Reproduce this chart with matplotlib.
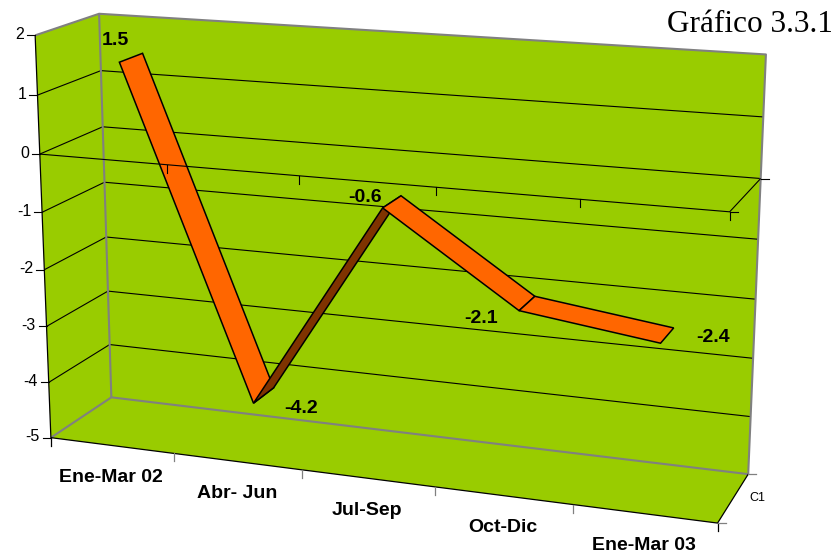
import numpy as np
import matplotlib
matplotlib.use("Agg")
import matplotlib.pyplot as plt

categories = ["Ene-Mar 02", "Abr- Jun", "Jul-Sep", "Oct-Dic", "Ene-Mar 03"]
values = [1.5, -4.2, -0.6, -2.1, -2.4]
value_ticks = [2, 1, 0, -1, -2, -3, -4, -5]
series_name = "C1"
title = "Gráfico 3.3.1"

GREEN = "#99CC00"
ORANGE = "#FF6600"
BROWN = "#7F3300"
GRAY = "#808080"

# Camera fitted from the box corners of the 3-D plot: (category, depth, value) -> pixel
anchors = [
    ((0, 0, 2), (35, 35)), ((0, 0, 0), (40, 154)), ((0, 0, -5), (51, 438)),
    ((0, 1, 2), (99, 14)), ((0, 1, 0), (103, 127)), ((0, 1, -5), (111, 397)),
    ((5, 1, 2), (766, 54)), ((5, 1, 0), (761, 179)), ((5, 1, -5), (748, 474)),
    ((5, 0, 0), (729, 212)), ((5, 0, -5), (718, 523)),
]
A, b = [], []
for (x, d, z), (u, v) in anchors:
    A.append([x, d, z, 1, 0, 0, 0, 0, -u * x, -u * d, -u * z])
    A.append([0, 0, 0, 0, x, d, z, 1, -v * x, -v * d, -v * z])
    b += [u, v]
P = np.append(np.linalg.lstsq(np.array(A, float), np.array(b, float), rcond=None)[0], 1).reshape(3, 4)


def proj(x, d, z):
    q = P @ np.array([x, d, z, 1.0])
    return q[0] / q[2], q[1] / q[2]


def path(ax, pts, color, lw, z):
    xy = np.array([proj(*p) for p in pts])
    ax.plot(xy[:, 0], xy[:, 1], color=color, lw=lw, zorder=z, solid_capstyle="butt")


def face(ax, pts, color, z, edge="none", lw=0):
    xy = np.array([proj(*p) for p in pts])
    ax.fill(xy[:, 0], xy[:, 1], facecolor=color, edgecolor=edge, lw=lw, zorder=z, joinstyle="miter")


fig = plt.figure(figsize=(8.37, 5.54), dpi=100)
ax = fig.add_axes([0, 0, 1, 1])
ax.set_xlim(0, 837)
ax.set_ylim(554, 0)
ax.axis("off")

n = len(categories)
top, bot = max(value_ticks), min(value_ticks)

# walls and floor
face(ax, [(0, 0, top), (0, 1, top), (0, 1, bot), (0, 0, bot)], GREEN, 1)
face(ax, [(0, 1, top), (n, 1, top), (n, 1, bot), (0, 1, bot)], GREEN, 1)
face(ax, [(0, 0, bot), (0, 1, bot), (n, 1, bot), (n, 0, bot)], GREEN, 1)

# gridlines
for t in value_ticks[1:-1]:
    path(ax, [(0, 0, t), (0, 1, t), (n, 1, t)], "black", 0.8, 2)

# grey wall edges
path(ax, [(0, 0, top), (0, 1, top), (n, 1, top), (n, 1, bot), (0, 1, bot), (0, 0, bot)], GRAY, 1.5, 2)
path(ax, [(0, 1, top), (0, 1, bot)], GRAY, 1.5, 2)

# category axis plane at zero: drawn over the ribbon
path(ax, [(0, 0, 0), (n, 0, 0), (n, 1, 0)], "black", 0.8, 5)
for i in range(1, n + 1):
    u, v = proj(i, 0, 0)
    ax.plot([u, u], [v, v + 8], color="black", lw=0.8, zorder=5)

# axes of the box
path(ax, [(0, 0, top), (0, 0, bot), (n, 0, bot), (n, 1, bot)], "black", 0.9, 3)
for i in range(n + 1):
    u, v = proj(i, 0, bot)
    ax.plot([u, u], [v, v + 8], color=GRAY if 0 < i < n else "black", lw=0.9, zorder=3)
for d in (0, 1):
    u, v = proj(n, d, bot)
    ax.plot([u, u + 8], [v, v], color=GRAY, lw=0.9, zorder=3)
for d in (0, 1):
    u, v = proj(n, d, 0)
    ax.plot([u, u + 8], [v, v], color="black", lw=0.8, zorder=5)

for t in value_ticks:
    u, v = proj(0, 0, t)
    ax.plot([u - 8, u], [v, v], color="black", lw=0.8, zorder=3)
    ax.text(u - 11, v - 1, str(t), ha="right", va="center", fontsize=11.5,
            family="Liberation Sans", color="black", zorder=6)

# ribbon
D0, D1 = 0.31, 0.69
for i in range(n - 1):
    rising = values[i + 1] > values[i] and i == 1
    face(ax,
         [(i + 0.5, D0, values[i]), (i + 1.5, D0, values[i + 1]),
          (i + 1.5, D1, values[i + 1]), (i + 0.5, D1, values[i])],
         BROWN if rising else ORANGE, 4 + i * 0.1, edge="black", lw=1.1)

# labels
fs = 14
label_offsets = [(-4, -22), (48, 5), (-18, -10), (-38, 8), (52, -6)]
for i, val in enumerate(values):
    u, v = proj(i + 0.5, D0, val)
    dx, dy = label_offsets[i]
    ax.text(u + dx, v + dy, f"{val:.1f}", ha="center", va="center", fontsize=fs,
            fontweight="bold", family="Liberation Sans", color="black", zorder=7)

for i, c in enumerate(categories):
    u, v = proj(i + 0.5, 0, bot)
    ax.text(u - 0.5, v + 32, c, ha="center", va="center", fontsize=fs, fontweight="bold",
            family="Liberation Sans", color="black", zorder=6)

u, v = proj(n, 0.5, bot)
ax.text(u + 24, v, series_name, ha="center", va="center", fontsize=9,
        family="Liberation Sans", color="black", zorder=6)

ax.text(833, 24, title, ha="right", va="center", fontsize=22.5,
        family="Liberation Serif", color="black", zorder=6)

fig.savefig("out.png", dpi=100)
